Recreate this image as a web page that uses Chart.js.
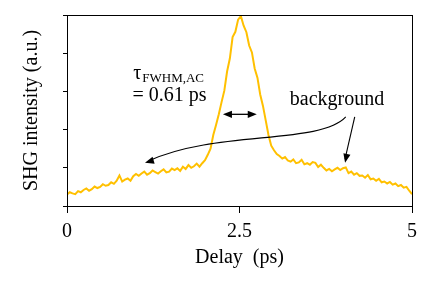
<!DOCTYPE html>
<html>
<head>
<meta charset="utf-8">
<script src="https://cdn.jsdelivr.net/npm/chart.js@4/dist/chart.umd.min.js"></script>
<style>
html,body{margin:0;padding:0;background:#fff;}
#wrap{width:432px;height:288px;}
</style>
</head>
<body>
<div id="wrap"><canvas id="c" width="432" height="288"></canvas></div>
<script>
const delay = [0.00,0.04,0.08,0.12,0.16,0.20,0.24,0.28,0.32,0.36,0.40,0.44,0.48,0.52,0.56,0.60,0.64,0.68,0.72,0.76,0.80,0.84,0.88,0.92,0.96,1.00,1.04,1.08,1.12,1.16,1.20,1.24,1.28,1.32,1.36,1.40,1.44,1.48,1.52,1.56,1.60,1.64,1.68,1.72,1.76,1.80,1.84,1.88,1.92,1.96,2.00,2.04,2.08,2.12,2.16,2.20,2.24,2.28,2.32,2.36,2.40,2.44,2.48,2.52,2.56,2.60,2.64,2.68,2.72,2.76,2.80,2.84,2.88,2.92,2.96,3.00,3.04,3.08,3.12,3.16,3.20,3.24,3.28,3.32,3.36,3.40,3.44,3.48,3.52,3.56,3.60,3.64,3.68,3.72,3.76,3.80,3.84,3.88,3.92,3.96,4.00,4.04,4.08,4.12,4.16,4.20,4.24,4.28,4.32,4.36,4.40,4.44,4.48,4.52,4.56,4.60,4.64,4.68,4.72,4.76,4.80,4.84,4.88,4.92,4.96,5.00];
const intensity = [0.30,0.36,0.33,0.31,0.39,0.36,0.42,0.46,0.40,0.44,0.51,0.47,0.50,0.57,0.53,0.55,0.62,0.58,0.66,0.80,0.64,0.69,0.72,0.66,0.78,0.84,0.79,0.85,0.90,0.82,0.86,0.93,0.89,0.85,0.91,0.96,0.88,0.90,0.98,0.94,0.99,0.92,1.03,0.97,1.07,1.00,1.04,1.11,1.03,1.12,
  1.20,1.34,1.50,1.86,2.12,2.40,2.72,3.02,3.52,3.86,4.42,4.56,4.88,4.97,4.72,4.55,4.20,4.02,3.60,3.36,2.92,2.62,2.24,1.86,1.58,1.46,
  1.36,1.31,1.24,1.28,1.19,1.16,1.22,1.12,1.14,1.21,1.09,1.12,1.08,1.15,1.13,1.02,1.08,1.00,0.93,0.97,0.91,0.96,1.00,0.94,0.99,1.01,0.86,0.90,0.82,0.86,0.79,0.80,0.74,0.81,0.70,0.72,0.66,0.71,0.62,0.64,0.59,0.63,0.56,0.59,0.52,0.55,0.48,0.50,0.40,0.31];
const xTicks = [0, 2.5, 5];
const yTicks = [0, 1, 2, 3, 4, 5];

// annotation anchors in data units
const tauPos = [0.96, 3.32];
const eqPos = [0.95, 2.75];
const bgPos = [3.23, 2.64];
const fwhmArrow = [[2.26, 2.40], [2.75, 2.40]];
const curveArrow = [[4.04, 2.33], [3.67, 1.60], [2.15, 1.99], [1.13, 1.13]];
const straightArrow = [[4.17, 2.33], [4.03, 1.13]];

const FONT = "'Liberation Serif', 'Times New Roman', serif";

function head(ctx, x1, y1, x2, y2) {
  const a = Math.atan2(y2 - y1, x2 - x1);
  const L = 9, W = 3.6;
  ctx.beginPath();
  ctx.moveTo(x2, y2);
  ctx.lineTo(x2 - L * Math.cos(a) + W * Math.sin(a), y2 - L * Math.sin(a) - W * Math.cos(a));
  ctx.lineTo(x2 - L * Math.cos(a) - W * Math.sin(a), y2 - L * Math.sin(a) + W * Math.cos(a));
  ctx.closePath();
  ctx.fill();
}

const overlay = {
  id: 'overlay',
  afterDraw(chart) {
    const ctx = chart.ctx, xs = chart.scales.x, ys = chart.scales.y;
    const P = p => [xs.getPixelForValue(p[0]), ys.getPixelForValue(p[1])];
    const a = chart.chartArea;
    ctx.save();
    ctx.strokeStyle = '#000'; ctx.fillStyle = '#000'; ctx.lineWidth = 1;
    ctx.strokeRect(a.left + 0.5, a.top + 0.5, a.right - a.left, a.bottom - a.top);
    ctx.textBaseline = 'alphabetic'; ctx.textAlign = 'left';
    let [tx, ty] = P(tauPos);
    ctx.font = '20px ' + FONT;
    ctx.fillText('\u03C4', tx, ty);
    const tw = ctx.measureText('\u03C4').width;
    ctx.font = '13px ' + FONT;
    ctx.fillText('FWHM,AC', tx + tw + 1, ty + 3);
    ctx.font = '20px ' + FONT;
    let [ex, ey] = P(eqPos);
    ctx.fillText('= 0.61 ps', ex, ey);
    let [bx, by] = P(bgPos);
    ctx.fillText('background', bx, by);
    ctx.lineWidth = 1.3;
    const f0 = P(fwhmArrow[0]), f1 = P(fwhmArrow[1]);
    ctx.beginPath(); ctx.moveTo(f0[0] + 4, f0[1]); ctx.lineTo(f1[0] - 4, f1[1]); ctx.stroke();
    head(ctx, f1[0], f1[1], f0[0], f0[1]);
    head(ctx, f0[0], f0[1], f1[0], f1[1]);
    ctx.lineWidth = 1.1;
    const c = curveArrow.map(P);
    ctx.beginPath(); ctx.moveTo(c[0][0], c[0][1]);
    ctx.bezierCurveTo(c[1][0], c[1][1], c[2][0], c[2][1], c[3][0] + 4, c[3][1] - 2);
    ctx.stroke();
    head(ctx, c[2][0], c[2][1] + 12, c[3][0], c[3][1]);
    const s0 = P(straightArrow[0]), s1 = P(straightArrow[1]);
    ctx.beginPath(); ctx.moveTo(s0[0], s0[1]); ctx.lineTo(s1[0], s1[1] - 4); ctx.stroke();
    head(ctx, s0[0], s0[1], s1[0], s1[1]);
    ctx.restore();
  }
};

new Chart(document.getElementById('c'), {
  type: 'line',
  data: {
    datasets: [{
      data: delay.map((d, i) => ({x: d, y: intensity[i]})),
      borderColor: '#FFC000',
      borderWidth: 2,
      pointRadius: 0,
      tension: 0,
      fill: false
    }]
  },
  options: {
    responsive: false,
    animation: false,
    devicePixelRatio: 1,
    layout: {padding: {top: 15, right: 20, left: 0, bottom: 0}},
    plugins: {legend: {display: false}, tooltip: {enabled: false}},
    scales: {
      x: {
        type: 'linear', min: 0, max: 5,
        afterBuildTicks: s => { s.ticks = xTicks.map(v => ({value: v})); },
        afterFit: s => { s.height = 82; },
        grid: {drawOnChartArea: false, tickLength: 7, color: '#000', tickColor: '#000'},
        border: {color: '#000', width: 1},
        ticks: {color: '#000', font: {family: FONT, size: 20}, padding: 7, maxRotation: 0, autoSkip: false,
                callback: v => String(v)},
        title: {display: true, text: 'Delay  (ps)', color: '#000', font: {family: FONT, size: 20}, padding: {top: 0, bottom: 18}}
      },
      y: {
        type: 'linear', min: 0, max: 5,
        afterBuildTicks: s => { s.ticks = yTicks.map(v => ({value: v})); },
        afterFit: s => { s.width = 67; },
        grid: {drawOnChartArea: false, tickLength: 4, color: '#000', tickColor: '#000'},
        border: {color: '#000', width: 1},
        ticks: {callback: () => '', padding: 0},
        title: {display: true, text: 'SHG intensity (a.u.)', color: '#000', font: {family: FONT, size: 20}, padding: {top: 20, bottom: 0}}
      }
    }
  },
  plugins: [overlay]
});
</script>
</body>
</html>
